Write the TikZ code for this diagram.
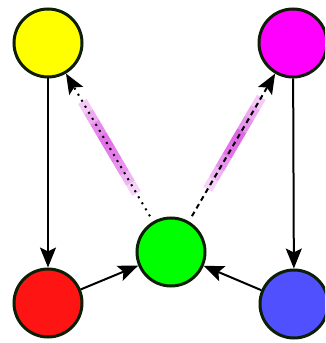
\documentclass[tikz,border=0pt]{standalone}
\usetikzlibrary{arrows.meta,calc}
\definecolor{nodeyellow}{RGB}{255,255,0}
\definecolor{nodemagenta}{RGB}{255,0,255}
\definecolor{nodered}{RGB}{255,20,20}
\definecolor{nodegreen}{RGB}{0,255,0}
\definecolor{nodeblue}{RGB}{80,80,255}
\definecolor{rimcolor}{RGB}{12,30,6}
\definecolor{glowcolor}{RGB}{210,40,220}

\begin{document}
\begin{tikzpicture}[x=1pt,y=1pt,
	vertex/.style={circle,draw=rimcolor,line width=3pt,minimum size=68pt,inner sep=0pt},
	edge/.style={line width=2pt,-{Stealth[length=20pt,width=16pt,inset=4pt]}}]
\useasboundingbox (0,0) rectangle (325,343);
\clip (0,0) rectangle (325,343);

\node [vertex,fill=nodeyellow] (yellow) at (48,300) {};
\node [vertex,fill=nodemagenta] (magenta) at (293,300) {};
\node [vertex,fill=nodered] (red) at (48,40) {};
\node [vertex,fill=nodegreen] (green) at (171,91) {};
\node [vertex,fill=nodeblue] (blue) at (294,39) {};

%glow under the two upper edges
\foreach \a/\b/\o in {0.28/0.33/0.2,0.33/0.38/0.35,0.38/0.44/0.5,0.44/0.50/0.6,0.50/0.56/0.65,0.56/0.62/0.55,0.62/0.67/0.4,0.67/0.72/0.25}
	\draw [glowcolor,line width=10pt,opacity=\o] ($(green)!\a!(yellow)$) -- ($(green)!\b!(yellow)$);
\foreach \a/\b/\o in {0.30/0.35/0.2,0.35/0.40/0.35,0.40/0.46/0.5,0.46/0.52/0.65,0.52/0.58/0.7,0.58/0.64/0.5,0.64/0.69/0.4,0.69/0.74/0.25}
	\draw [glowcolor,line width=10pt,opacity=\o] ($(green)!\a!(magenta)$) -- ($(green)!\b!(magenta)$);

\draw [edge] (yellow) -- (red);
\draw [edge] (magenta) -- (blue);
\draw [edge] (red) -- (green);
\draw [edge] (blue) -- (green);
\draw [edge,dash pattern=on 2pt off 5pt,shorten <=6pt] (green) -- (yellow);
\draw [edge,dash pattern=on 5pt off 4pt,shorten <=6pt] (green) -- (magenta);

\end{tikzpicture}
\end{document}
